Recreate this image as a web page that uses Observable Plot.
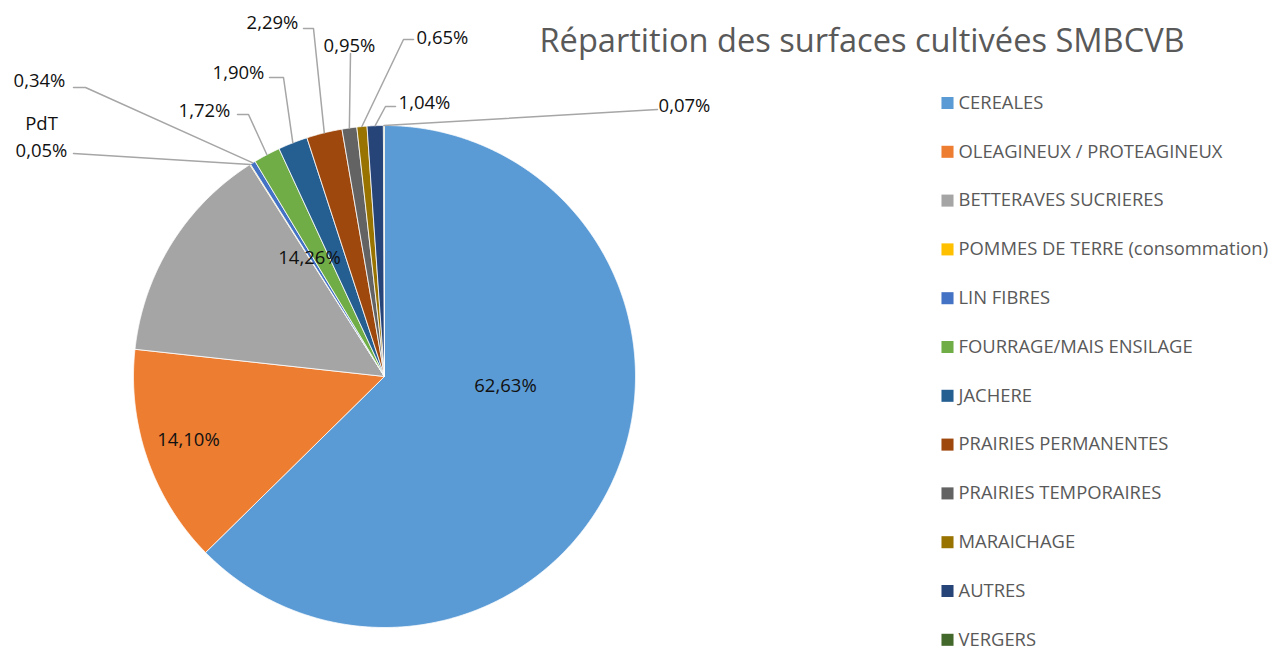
<!DOCTYPE html>
<html><head><meta charset="utf-8">
<script src="https://cdn.jsdelivr.net/npm/d3@7"></script>
<script src="https://cdn.jsdelivr.net/npm/@observablehq/plot@0.6"></script>
<style>
html,body{margin:0;padding:0;background:#fff;}
#chart{width:1278px;height:650px;overflow:hidden;}
</style>
</head><body><div id="chart"></div>
<script>
// ---- data ----
const title = "Répartition des surfaces cultivées SMBCVB";
const categories = ["CEREALES","OLEAGINEUX / PROTEAGINEUX","BETTERAVES SUCRIERES","POMMES DE TERRE (consommation)","LIN FIBRES","FOURRAGE/MAIS ENSILAGE","JACHERE","PRAIRIES PERMANENTES","PRAIRIES TEMPORAIRES","MARAICHAGE","AUTRES","VERGERS"];
const shares = [62.63,14.10,14.26,0.05,0.34,1.72,1.90,2.29,0.95,0.65,1.04,0.07];
const labelPrefix = ["","","","PdT","","","","","","","",""];
const colors = ["#5B9BD5","#ED7D31","#A5A5A5","#FFC000","#4472C4","#70AD47","#255E91","#9E480E","#636363","#997300","#264478","#43682B"];

// ---- layout (pixels) ----
const W = 1278, H = 650, CX = 384, CY = 376, R = 251;
// label text centre and leader-line start/elbow points (null = label inside slice)
const labelLayout = [
  {tx:505, ty:383, line:null},
  {tx:188, ty:437, line:null},
  {tx:309, ty:255, line:null},
  {tx:41,  ty:134.5, line:[[73,153]]},
  {tx:39,  ty:78,  line:[[73,87],[85,87]]},
  {tx:204, ty:108, line:[[237,114],[248,114]]},
  {tx:238, ty:70,  line:[[269,77],[283,77]]},
  {tx:272, ty:20,  line:[[303,28],[313,28]]},
  {tx:349, ty:43,  line:[[350,53]]},
  {tx:442, ty:35,  line:[[413,39],[403,39]]},
  {tx:424, ty:100, line:[[395,106],[385,106]]},
  {tx:684, ty:103, line:[[657,109]]}
];
const legend = {squareX:947, textX:958, top:102.5, step:48.8};
const titlePos = {x:539, y:41};

const ux = p => (p - CX) / R;
const uy = p => (CY - p) / R;

const rows = categories.map((c, i) => ({cat: c, share: shares[i], i}));
const arcs = d3.pie().sort(null).value(d => d.share)(rows);

// slice outlines
const slicePts = [];
arcs.forEach(a => {
  const cat = a.data.cat;
  slicePts.push({cat, x: 0, y: 0});
  const n = Math.max(2, Math.ceil((a.endAngle - a.startAngle) / 0.004));
  for (let k = 0; k <= n; k++) {
    const t = a.startAngle + (a.endAngle - a.startAngle) * k / n;
    slicePts.push({cat, x: Math.sin(t), y: Math.cos(t)});
  }
  slicePts.push({cat, x: 0, y: 0});
});

// labels
const fmt = v => v.toFixed(2).replace(".", ",") + "%";
const labels = arcs.map((a, i) => ({
  text: (labelPrefix[i] ? labelPrefix[i] + "\n" : "") + fmt(a.data.share),
  x: ux(labelLayout[i].tx), y: uy(labelLayout[i].ty)
}));

// leader lines: from label side to slice mid-angle on the rim
const leaderPts = [];
arcs.forEach((a, i) => {
  const L = labelLayout[i].line;
  if (!L) return;
  L.forEach(p => leaderPts.push({k: i, x: ux(p[0]), y: uy(p[1])}));
  const m = (a.startAngle + a.endAngle) / 2;
  leaderPts.push({k: i, x: Math.sin(m), y: Math.cos(m)});
});

const chart = Plot.plot({
  width: W, height: H,
  marginTop: 0, marginRight: 0, marginBottom: 0, marginLeft: 0,
  x: {domain: [ux(0), ux(W)], axis: null},
  y: {domain: [uy(H), uy(0)], axis: null},
  color: {domain: categories, range: colors},
  style: {fontFamily: "'Open Sans', sans-serif", background: "#fff", overflow: "visible"},
  marks: [
    Plot.line(slicePts, {x: "x", y: "y", z: "cat", fill: "cat", stroke: "#fff", strokeWidth: 0.8, curve: "linear"}),
    Plot.line(leaderPts, {x: "x", y: "y", z: "k", stroke: "#A6A6A6", strokeWidth: 1.5}),
    Plot.text(labels, {x: "x", y: "y", text: "text", fontSize: 18.5, fill: "#111", lineHeight: 1.45}),
    Plot.text([title], {x: ux(titlePos.x), y: uy(titlePos.y), text: d => d, textAnchor: "start", fontSize: 32.6, fill: "#595959"}),
    Plot.dot(categories, {x: ux(legend.squareX), y: (d, i) => uy(legend.top + legend.step * i), fill: d => d, symbol: "square", r: 6.8, stroke: null}),
    Plot.text(categories, {x: ux(legend.textX), y: (d, i) => uy(legend.top + legend.step * i), text: d => d, textAnchor: "start", fontSize: 18.4, fill: "#595959"})
  ]
});
document.getElementById("chart").appendChild(chart);
</script>
</body></html>
